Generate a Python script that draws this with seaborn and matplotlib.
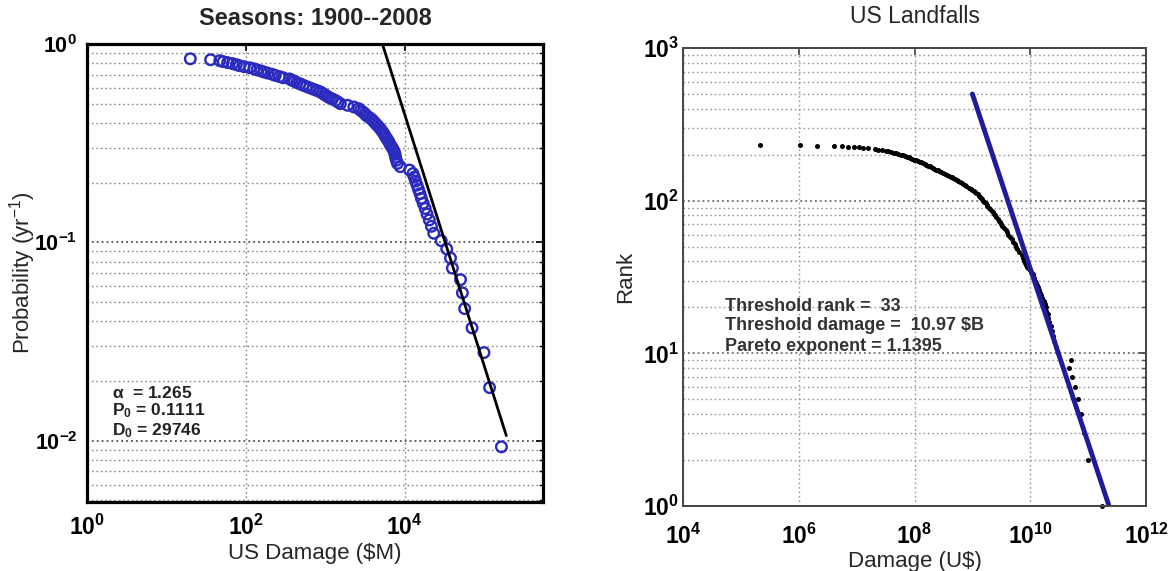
import matplotlib
matplotlib.use("Agg")
import matplotlib.pyplot as plt
import seaborn as sns
import numpy as np
import pandas as pd
from matplotlib.ticker import FixedLocator, FixedFormatter, LogLocator, NullLocator, NullFormatter

# ---------------- data ----------------
# Left panel: seasonal US damage ($M) vs exceedance probability (per year)
season_damage = [165000, 117000, 99500, 70400, 56800, 53200, 50400, 39800, 37700, 33800,
                 28800, 23200, 21700, 20400, 19100, 18100, 17100, 16200, 15600, 14900,
                 14300, 13700, 13200, 12700, 11500, 8800, 8100, 7850, 7670, 7550,
                 7380, 7080, 6760, 6460, 6240, 5960, 5690, 5500, 5250, 5010,
                 4790, 4520, 4270, 4070, 3850, 3590, 3310, 3160, 2990, 2790,
                 2630, 2290, 1910, 1550, 1450, 1350, 1230, 1120, 1050, 980,
                 920, 860, 780, 700, 630, 575, 525, 480, 440, 410,
                 380, 355, 295, 265, 235, 215, 190, 170, 155, 138,
                 126, 112, 95, 83, 76, 68, 59, 52, 47, 36, 20]
season_prob = [0.0093, 0.0185, 0.0278, 0.0370, 0.0463, 0.0556, 0.0648, 0.0741, 0.0833, 0.0926,
               0.1019, 0.1111, 0.1204, 0.1296, 0.1389, 0.1481, 0.1574, 0.1667, 0.1759, 0.1852,
               0.1944, 0.2037, 0.2130, 0.2222, 0.2315, 0.2407, 0.2500, 0.2593, 0.2685, 0.2778,
               0.2870, 0.2963, 0.3056, 0.3148, 0.3241, 0.3333, 0.3426, 0.3519, 0.3611, 0.3704,
               0.3796, 0.3889, 0.3981, 0.4074, 0.4167, 0.4259, 0.4352, 0.4444, 0.4537, 0.4630,
               0.4722, 0.4815, 0.4907, 0.5000, 0.5093, 0.5185, 0.5278, 0.5370, 0.5463, 0.5556,
               0.5648, 0.5741, 0.5833, 0.5926, 0.6019, 0.6111, 0.6204, 0.6296, 0.6389, 0.6481,
               0.6574, 0.6667, 0.6759, 0.6852, 0.6944, 0.7037, 0.7130, 0.7222, 0.7315, 0.7407,
               0.7500, 0.7593, 0.7685, 0.7778, 0.7870, 0.7963, 0.8056, 0.8148, 0.8241, 0.8333, 0.8426]
season_fit_damage = [5240, 190000]
season_fit_prob = [1.0, 0.0106]

# Right panel: US landfall damage (US$) vs rank
landfall_rank = [1, 2, 3, 4, 5, 6, 7, 8, 9, 10,
                 11, 12, 13, 14, 15, 16, 17, 18, 19, 20,
                 21, 22, 23, 24, 25, 26, 27, 28, 29, 30,
                 31, 32, 33, 34, 35, 36, 37, 38, 39, 40,
                 42, 44, 46, 48, 50, 52, 54, 56, 58, 60,
                 62, 64, 66, 68, 70, 72, 74, 76, 78, 80,
                 82, 84, 86, 88, 90, 92, 94, 96, 98, 100,
                 102, 104, 106, 108, 110, 112, 114, 116, 118, 120,
                 122, 124, 126, 128, 130, 132, 134, 136, 138, 140,
                 142, 144, 146, 148, 150, 152, 154, 156, 158, 160,
                 162, 164, 166, 168, 170, 172, 174, 176, 178, 180,
                 182, 184, 186, 188, 190, 192, 194, 196, 198, 200,
                 202, 204, 206, 208, 210, 212, 214, 216, 218, 220,
                 222, 224, 225, 226, 227, 228, 229, 230, 231]
landfall_damage = [1.75e11, 1.0e11, 8.4e10, 7.6e10, 6.6e10, 5.9e10, 5.2e10, 4.6e10, 5.0e10, 3.0e10,
                   2.8e10, 2.6e10, 2.5e10, 2.4e10, 2.25e10, 2.15e10, 2.05e10, 2.0e10, 1.9e10, 1.85e10,
                   1.8e10, 1.7e10, 1.62e10, 1.55e10, 1.48e10, 1.42e10, 1.36e10, 1.3e10, 1.25e10, 1.2e10,
                   1.15e10, 1.1e10, 1.097e10, 1.05e10, 1.0e10, 9.2e9, 8.9e9, 8.5e9, 8.2e9, 7.9e9,
                   7.5e9, 7.1e9, 6.5e9, 6.0e9, 5.7e9, 5.4e9, 5.1e9, 4.8e9, 4.5e9, 4.2e9,
                   4.0e9, 3.8e9, 3.55e9, 3.3e9, 3.15e9, 3.0e9, 2.9e9, 2.75e9, 2.6e9, 2.45e9,
                   2.35e9, 2.25e9, 2.15e9, 2.05e9, 1.93e9, 1.82e9, 1.76e9, 1.7e9, 1.62e9, 1.55e9,
                   1.48e9, 1.41e9, 1.35e9, 1.29e9, 1.23e9, 1.17e9, 1.12e9, 1.07e9, 1.0e9, 9.3e8,
                   8.6e8, 7.9e8, 7.4e8, 6.9e8, 6.5e8, 6.1e8, 5.75e8, 5.4e8, 5.0e8, 4.7e8,
                   4.45e8, 4.2e8, 3.9e8, 3.6e8, 3.4e8, 3.1e8, 2.9e8, 2.65e8, 2.5e8, 2.35e8,
                   2.2e8, 2.05e8, 1.93e8, 1.82e8, 1.72e8, 1.6e8, 1.5e8, 1.4e8, 1.3e8, 1.22e8,
                   1.14e8, 1.06e8, 9.8e7, 9.1e7, 8.5e7, 8.0e7, 7.4e7, 6.9e7, 6.3e7, 5.75e7,
                   5.25e7, 4.8e7, 4.35e7, 4.0e7, 3.55e7, 3.2e7, 2.7e7, 2.35e7, 2.05e7, 1.6e7,
                   1.3e7, 1.12e7, 8.9e6, 7.1e6, 5.6e6, 4.0e6, 2.1e6, 1.07e6, 2.1e5]
landfall_fit_damage = [1.0e9, 2.3e11]
landfall_fit_rank = [500, 1.0]

left_x_exp = [0, 2, 4]
left_y_exp = [0, -1, -2]
right_x_exp = [4, 6, 8, 10, 12]
right_y_exp = [0, 1, 2, 3]

left_title = "Seasons: 1900--2008"
right_title = "US Landfalls"
left_notes = [r"$\mathbf{\alpha}$  = 1.265", r"$\mathbf{P_0}$ = 0.1111", r"$\mathbf{D_0}$ = 29746"]
right_notes = ["Threshold rank =  33", "Threshold damage =  10.97 $B", "Pareto exponent = 1.1395"]

# ---------------- style ----------------
sns.set_theme(style="white")
plt.rcParams["font.family"] = ["Liberation Sans", "DejaVu Sans"]
plt.rcParams["mathtext.fontset"] = "custom"
plt.rcParams["mathtext.rm"] = "Liberation Sans"
plt.rcParams["mathtext.it"] = "Liberation Sans:italic"
plt.rcParams["mathtext.bf"] = "Liberation Sans:bold"

circle_blue = "#2a2abf"
line_blue = "#1c1c9c"

fig = plt.figure(figsize=(11.75, 5.71), dpi=100, facecolor="white")
axL = fig.add_axes([0.0740, 0.1208, 0.3881, 0.8021])
axR = fig.add_axes([0.5813, 0.1138, 0.3940, 0.8021])

# ---------------- left panel ----------------
dfL = pd.DataFrame({"damage": season_damage, "prob": season_prob})
sns.scatterplot(data=dfL, x="damage", y="prob", ax=axL, marker="o", s=58, legend=False)
pts = axL.collections[-1]
pts.set_facecolor("none")
pts.set_edgecolor(circle_blue)
pts.set_linewidth(1.7)
sns.lineplot(x=season_fit_damage, y=season_fit_prob, ax=axL, color="black", linewidth=2.0, legend=False)

axL.set_xscale("log")
axL.set_yscale("log")
axL.set_xlim(1, 5.5e5)
axL.set_ylim(0.0049, 1)

# ---------------- right panel ----------------
dfR = pd.DataFrame({"damage": landfall_damage, "rank": landfall_rank})
sns.scatterplot(data=dfR, x="damage", y="rank", ax=axR, marker="o", s=13, color="black",
                linewidth=0, legend=False, clip_on=False)
sns.lineplot(x=landfall_fit_damage, y=landfall_fit_rank, ax=axR, color=line_blue, linewidth=3.5, legend=False)
axR.set_xscale("log")
axR.set_yscale("log")
axR.set_xlim(1e4, 1e12)
axR.set_ylim(1, 1e3)


def style_axes(ax, xexp, yexp, spine_lw, spine_col, major_grid, minor_grid, xpad, ypad, ysize):
    ax.xaxis.set_major_locator(FixedLocator([10.0 ** e for e in xexp]))
    ax.xaxis.set_major_formatter(FixedFormatter([r"$\mathbf{10^{%d}}$" % e for e in xexp]))
    ax.xaxis.set_minor_locator(NullLocator())
    ax.yaxis.set_major_locator(FixedLocator([10.0 ** e for e in yexp]))
    ax.yaxis.set_major_formatter(FixedFormatter([r"$\mathbf{10^{%d}}$" % e for e in yexp]))
    ax.yaxis.set_minor_locator(LogLocator(base=10, subs=range(2, 10), numticks=20))
    ax.yaxis.set_minor_formatter(NullFormatter())
    ax.tick_params(which="both", direction="in", top=True, right=True, colors=spine_col)
    ax.tick_params(which="major", length=5, width=1.2, labelcolor="black")
    ax.tick_params(which="minor", length=3, width=1.0)
    ax.tick_params(axis="x", pad=xpad, labelsize=16.5)
    ax.tick_params(axis="y", pad=ypad, labelsize=ysize)
    for sp in ax.spines.values():
        sp.set_visible(True)
        sp.set_linewidth(spine_lw)
        sp.set_color(spine_col)
    ax.grid(True, which="major", axis="y", linestyle=(0, (1.2, 2.0)), color=major_grid, linewidth=1.1)
    ax.grid(True, which="minor", axis="y", linestyle=(0, (1.2, 2.0)), color=minor_grid, linewidth=1.0)
    ax.grid(True, which="major", axis="x", linestyle=(0, (1.2, 2.0)), color=minor_grid, linewidth=1.0)
    ax.set_axisbelow(True)
    ax.set_facecolor("white")


style_axes(axL, left_x_exp, left_y_exp, 2.3, "black", "#333333", "#888888", 9, 7, 15.5)
style_axes(axR, right_x_exp, right_y_exp, 1.4, "#444444", "#555555", "#999999", 13, 3, 16.5)

axL.set_title(left_title, fontsize=17, fontweight="bold", pad=14)
axL.set_xlabel("US Damage ($M)", fontsize=16, labelpad=2)
axL.set_ylabel("Probability (yr$^{-1}$)", fontsize=16, labelpad=-3)
axR.set_title(right_title, fontsize=16.5, pad=18)
axR.set_xlabel("Damage (U$)", fontsize=16, labelpad=1)
axR.set_ylabel("Rank", fontsize=16, labelpad=4.5)

for txt, yb in zip(left_notes, [0.227, 0.190, 0.146]):
    axL.text(0.055, yb, txt, transform=axL.transAxes, fontsize=12.5, fontweight="bold",
             va="baseline", ha="left", color="#222222")
for txt, yb in zip(right_notes, [0.426, 0.384, 0.338]):
    axR.text(0.091, yb, txt, transform=axR.transAxes, fontsize=13, fontweight="bold",
             va="baseline", ha="left", color="#333333")

fig.savefig("out.png", dpi=100, facecolor="white")
